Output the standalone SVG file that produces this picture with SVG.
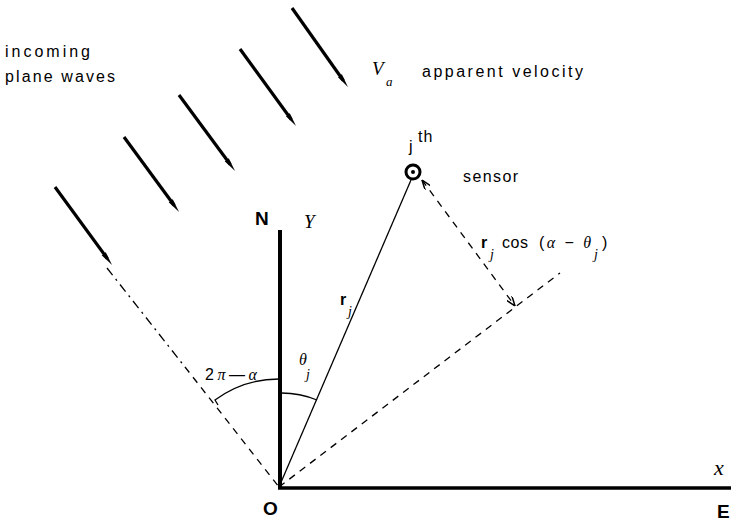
<svg xmlns="http://www.w3.org/2000/svg" width="731" height="522" viewBox="0 0 731 522">
<style>
.t{font-family:"Liberation Sans",Arial,sans-serif;font-size:16px;fill:#000}
.b{font-family:"Liberation Sans",Arial,sans-serif;font-size:19px;font-weight:bold;fill:#000}
.i{font-family:"Liberation Serif","Times New Roman",serif;font-style:italic;fill:#000}
.wave{stroke:#000;stroke-width:3.2;fill:none;marker-end:url(#wh)}
.dash{stroke:#000;stroke-width:1.3;fill:none;stroke-dasharray:7 6}
.axis{stroke:#000;fill:none}
.thin{stroke:#000;stroke-width:1.3;fill:none}
</style>
<defs>
<marker id="wh" viewBox="0 0 14 6" markerWidth="14" markerHeight="6" markerUnits="userSpaceOnUse" refX="6" refY="3" orient="auto">
<path d="M0,0.5 L14,3 L0,5.5 z" fill="#000"/>
</marker>
<marker id="ah" viewBox="0 0 10 7" markerWidth="10" markerHeight="7" markerUnits="userSpaceOnUse" refX="10" refY="3.5" orient="auto-start-reverse">
<path d="M0,0 L10,3.5 L0,7" fill="none" stroke="#000" stroke-width="1.5"/>
</marker>
</defs>
<rect width="731" height="522" fill="#fff"/>

<g id="waves">
<line class="wave" x1="292" y1="8" x2="343.3" y2="80.5"/>
<line class="wave" x1="240" y1="49" x2="291.3" y2="119.5"/>
<line class="wave" x1="179" y1="95" x2="230.3" y2="164.5"/>
<line class="wave" x1="124" y1="137" x2="174.3" y2="205.5"/>
<line class="wave" x1="55" y1="187" x2="107.3" y2="258.5"/>
</g>

<g id="connectors">
<line class="axis" x1="280" y1="230" x2="280" y2="489" stroke-width="4"/>
<line class="axis" x1="278" y1="488" x2="731" y2="488" stroke-width="3.5"/>
<line class="thin" x1="411" y1="180" x2="279" y2="487"/>
<line class="dash" x1="279" y1="487" x2="560" y2="273"/>
<path class="thin" d="M107,268 L185,367" stroke-dasharray="9 5 2 5"/>
<line class="dash" x1="185" y1="367" x2="279" y2="487"/>
<line class="dash" x1="422" y1="180" x2="515" y2="306" marker-start="url(#ah)" marker-end="url(#ah)"/>
<path class="thin" d="M280,393 A94,94 0 0 1 317,400"/>
<path class="thin" d="M280,379 A108,108 0 0 0 215,400 l3,5"/>
</g>

<g id="sensor">
<circle cx="413" cy="172" r="7" fill="none" stroke="#000" stroke-width="3"/>
<circle cx="413" cy="172" r="2" fill="#000"/>
<text class="t" x="409" y="152">j</text>
<text class="t" x="418" y="142" font-size="12" letter-spacing="1">th</text>
<text class="t" x="463" y="182" textLength="55" lengthAdjust="spacing">sensor</text>
</g>

<g id="labels">
<text class="t" x="5" y="57" textLength="85" lengthAdjust="spacing">incoming</text>
<text class="t" x="5" y="82" textLength="110" lengthAdjust="spacing">plane waves</text>
<text class="i" x="372" y="75" font-size="19">V</text>
<text class="i" x="386" y="86" font-size="13">a</text>
<text class="t" x="422" y="77" textLength="161" lengthAdjust="spacing">apparent velocity</text>
<text class="b" x="255" y="225">N</text>
<text class="i" x="304" y="228" font-size="19">Y</text>
<text class="b" x="263" y="515">O</text>
<text class="b" x="717" y="518">E</text>
<text class="i" x="714" y="475" font-size="22">x</text>
<text class="t" x="340" y="305" font-weight="bold">r</text>
<text class="i" x="348" y="316" font-size="14">j</text>
<text class="i" x="299" y="365" font-size="16">θ</text>
<text class="i" x="306" y="379" font-size="14">j</text>
<text x="205" y="380" class="t" font-size="18" textLength="52" lengthAdjust="spacing">2<tspan class="i">π</tspan>—<tspan class="i">α</tspan></text>
<text class="t" x="481" y="248" font-weight="bold">r</text>
<text class="i" x="490" y="259" font-size="14">j</text>
<text class="t" x="502" y="248" textLength="26" lengthAdjust="spacing">cos</text>
<text class="t" x="539" y="248" font-size="17" textLength="52" lengthAdjust="spacing">(<tspan class="i">α</tspan> − <tspan class="i">θ</tspan></text>
<text class="i" x="594" y="259" font-size="14">j</text>
<text class="t" x="602" y="248" font-size="17">)</text>
</g>
</svg>
